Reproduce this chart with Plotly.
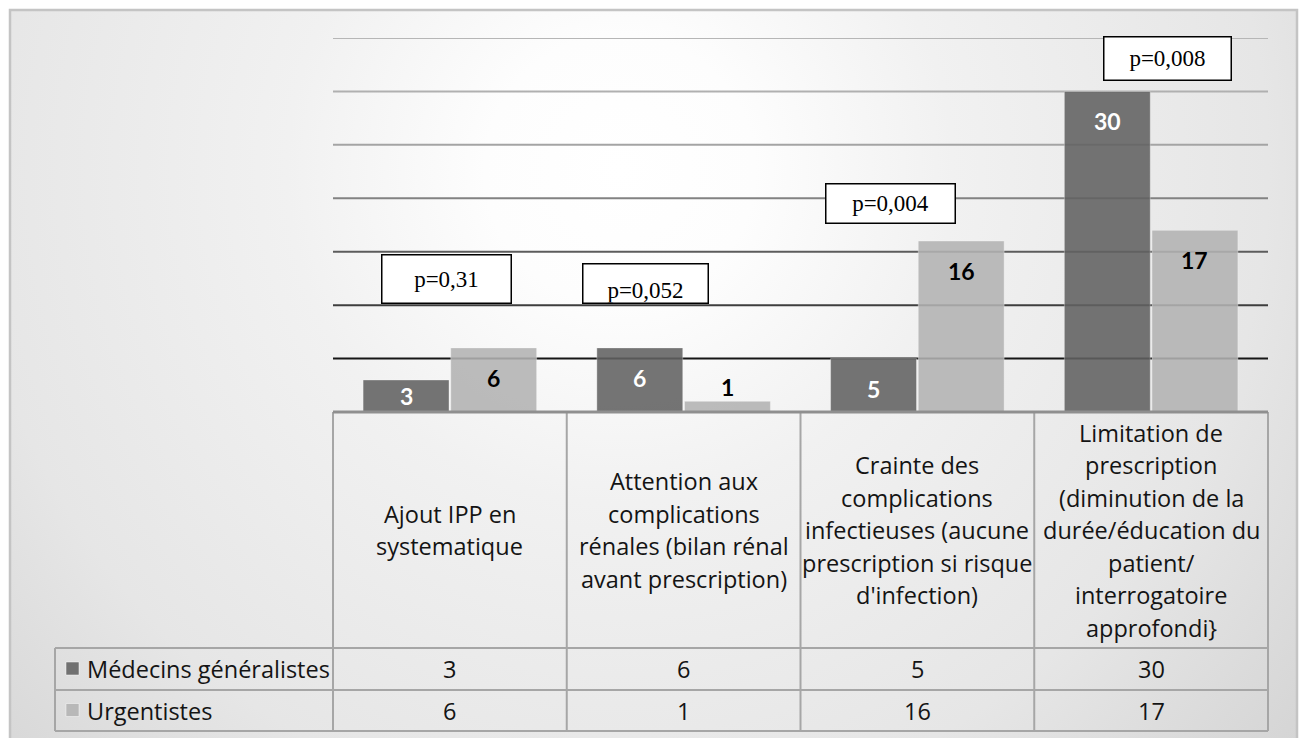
import base64
import plotly.graph_objects as go

# ---------------- data ----------------
categories = [
    "Ajout IPP en<br>systematique",
    "Attention aux<br>complications<br>rénales (bilan rénal<br>avant prescription)",
    "Crainte des<br>complications<br>infectieuses (aucune<br>prescription si risque<br>d'infection)",
    "Limitation de<br>prescription<br>(diminution de la<br>durée/éducation du<br>patient/<br>interrogatoire<br>approfondi}",
]
series_names = ["Médecins généralistes", "Urgentistes"]
medecins = [3, 6, 5, 30]
urgentistes = [6, 1, 16, 17]
p_values = ["p=0,31", "p=0,052", "p=0,004", "p=0,008"]
y_ticks = [5, 10, 15, 20, 25, 30, 35]

# ---------------- layout constants (pixels) ----------------
W, H = 1300, 738
PL, PR = 333, 1268          # plot area left/right
BASE, TOP = 412, 38         # y=0 and y=35 pixel rows
YMAX = 35
HDR_BOT, ROW1_BOT, ROW2_BOT = 648, 690, 731
TBL_L = 55

def fx(p):
    return p / W

def fy(p):
    return 1 - p / H

DARK = "#626262"
LIGHT = "#b3b3b3"
BAR_OP = 0.88
TXT = "#141414"
TABLE_LINE = "#a6a6a6"
FONT = "Open Sans"
TSIZE = 23.5

# background gradient (svg data uri)
bw, bh = 1287, 728
svg = (
    f'<svg xmlns="http://www.w3.org/2000/svg" width="{bw}" height="{bh}" '
    f'viewBox="0 0 {bw} {bh}" preserveAspectRatio="none"><defs>'
    f'<radialGradient id="g" gradientUnits="userSpaceOnUse" cx="610" cy="160" r="900">'
    f'<stop offset="0" stop-color="#ffffff"/>'
    f'<stop offset="0.15" stop-color="#fdfdfd"/>'
    f'<stop offset="0.37" stop-color="#f1f1f1"/>'
    f'<stop offset="0.72" stop-color="#e6e6e6"/>'
    f'<stop offset="0.95" stop-color="#d7d7d7"/>'
    f'<stop offset="1" stop-color="#d4d4d4"/>'
    f'</radialGradient></defs><rect width="{bw}" height="{bh}" fill="url(#g)"/></svg>'
)
svg_uri = "data:image/svg+xml;base64," + base64.b64encode(svg.encode()).decode()

xs = list(range(len(categories)))
fig = go.Figure()
fig.add_trace(go.Bar(
    x=xs, y=medecins, name=series_names[0],
    marker=dict(color=DARK, opacity=BAR_OP, line=dict(color="rgba(255,255,255,0.35)", width=1)),
    hoverinfo="skip",
))
fig.add_trace(go.Bar(
    x=xs, y=urgentistes, name=series_names[1],
    marker=dict(color=LIGHT, opacity=BAR_OP, line=dict(color="rgba(255,255,255,0.35)", width=1)),
    hoverinfo="skip",
))

shapes = []
annotations = []

# gridlines
grid_colors = ["#161616", "#3e3e3e", "#5c5c5c", "#828282", "#a4a4a4", "#b0b0b0", "#b6b6b6"]
for t, c in zip(y_ticks, grid_colors):
    shapes.append(dict(type="line", xref="paper", yref="y", x0=fx(PL), x1=fx(PR), y0=t, y1=t,
                       line=dict(color=c, width=2), layer="below"))

# outer border
shapes.append(dict(type="rect", xref="paper", yref="paper", x0=fx(10), x1=fx(1297), y0=fy(10), y1=fy(760),
                   line=dict(color="#c4c4c4", width=2.5), layer="above"))

# table lines
cw = (PR - PL) / len(categories)
for i in range(len(categories) + 1):
    xp = PL + i * cw
    shapes.append(dict(type="line", xref="paper", yref="paper", x0=fx(xp), x1=fx(xp), y0=fy(BASE), y1=fy(ROW2_BOT),
                       line=dict(color=TABLE_LINE, width=2), layer="above"))
for yp in (HDR_BOT, ROW1_BOT, ROW2_BOT):
    shapes.append(dict(type="line", xref="paper", yref="paper", x0=fx(TBL_L), x1=fx(PR), y0=fy(yp), y1=fy(yp),
                       line=dict(color=TABLE_LINE, width=2), layer="above"))
shapes.append(dict(type="line", xref="paper", yref="paper", x0=fx(TBL_L), x1=fx(TBL_L), y0=fy(HDR_BOT), y1=fy(ROW2_BOT),
                   line=dict(color=TABLE_LINE, width=2), layer="above"))
# axis baseline
shapes.append(dict(type="line", xref="paper", yref="paper", x0=fx(PL), x1=fx(PR), y0=fy(BASE), y1=fy(BASE),
                   line=dict(color="#8f8f8f", width=3), layer="above"))

# category header labels (one annotation per line)
LINE_SP = 32.5
hdr_c = (BASE + HDR_BOT) / 2
for i, lab in enumerate(categories):
    lines = lab.split("<br>")
    n = len(lines)
    for k, ln in enumerate(lines):
        yp = hdr_c + (k - (n - 1) / 2) * LINE_SP
        annotations.append(dict(x=i, xref="x", y=fy(yp), yref="paper", text=ln, showarrow=False,
                                xanchor="center", yanchor="middle",
                                font=dict(family=FONT, size=TSIZE, color=TXT)))

# table rows
row_centers = [(HDR_BOT + ROW1_BOT) / 2, (ROW1_BOT + ROW2_BOT) / 2]
row_colors = [DARK, LIGHT]
for r, (name, vals) in enumerate(zip(series_names, [medecins, urgentistes])):
    yc = row_centers[r]
    shapes.append(dict(type="rect", xref="paper", yref="paper", x0=fx(66), x1=fx(79), y0=fy(yc - 7), y1=fy(yc + 6),
                       fillcolor=row_colors[r], opacity=BAR_OP, line=dict(color="rgba(255,255,255,0.5)", width=1),
                       layer="above"))
    annotations.append(dict(x=fx(85), xref="paper", y=fy(yc), yref="paper", text=name, showarrow=False,
                            xanchor="left", yanchor="middle", font=dict(family=FONT, size=TSIZE, color=TXT)))
    for i, v in enumerate(vals):
        annotations.append(dict(x=i, xref="x", y=fy(yc), yref="paper", text=str(v), showarrow=False,
                                xanchor="center", yanchor="middle", font=dict(family=FONT, size=TSIZE, color=TXT)))

# data labels on bars
ppu = (BASE - TOP) / YMAX
off = 0.1875
for s, (vals, tc) in enumerate(zip([medecins, urgentistes], ["white", "black"])):
    for i, v in enumerate(vals):
        h = v * ppu
        if h >= 50:
            sh, col = -30, tc
        elif h >= 20:
            sh, col = -h / 2, tc
        else:
            sh, col = 14, "black"
        annotations.append(dict(x=i + (off if s else -off), xref="x", y=v, yref="y", yshift=sh,
                                text=f"<b>{v}</b>", showarrow=False, xanchor="center", yanchor="middle",
                                font=dict(family="Lato", size=23, color=col)))

# p-value boxes
p_boxes = [(381, 512, 254, 304, "middle"), (582, 709, 263, 304, "bottom"),
           (825, 956, 183, 224, "middle"), (1103, 1232, 36, 81, "middle")]
for txt, (x0, x1, y0, y1, va) in zip(p_values, p_boxes):
    annotations.append(dict(x=fx((x0 + x1) / 2), xref="paper", y=fy((y0 + y1) / 2), yref="paper",
                            text=txt, showarrow=False, xanchor="center", yanchor="middle",
                            width=x1 - x0 - 3, height=y1 - y0 - 3, valign=va, align="center",
                            bgcolor="white", bordercolor="black", borderwidth=1.5, borderpad=0,
                            font=dict(family="Liberation Serif", size=23, color="black")))

fig.update_layout(
    width=W, height=H,
    margin=dict(l=0, r=0, t=0, b=0),
    paper_bgcolor="white",
    plot_bgcolor="rgba(0,0,0,0)",
    showlegend=False,
    barmode="group", bargap=0.25, bargroupgap=0.02,
    xaxis=dict(domain=[fx(PL), fx(PR)], range=[-0.5, len(categories) - 0.5],
               showgrid=False, zeroline=False, showticklabels=False, ticks="", showline=False, fixedrange=True),
    yaxis=dict(domain=[fy(BASE), fy(TOP)], range=[0, YMAX],
               showgrid=False, zeroline=False, showticklabels=False, ticks="", showline=False, fixedrange=True),
    images=[dict(source=svg_uri, xref="paper", yref="paper", x=fx(10), y=fy(10),
                 sizex=bw / W, sizey=bh / H, xanchor="left", yanchor="top",
                 sizing="stretch", layer="below")],
    shapes=shapes,
    annotations=annotations,
)

fig.write_html("out.html",
               config={"displayModeBar": False},
               post_script="document.body.style.margin='0px';document.body.style.padding='0px';")
